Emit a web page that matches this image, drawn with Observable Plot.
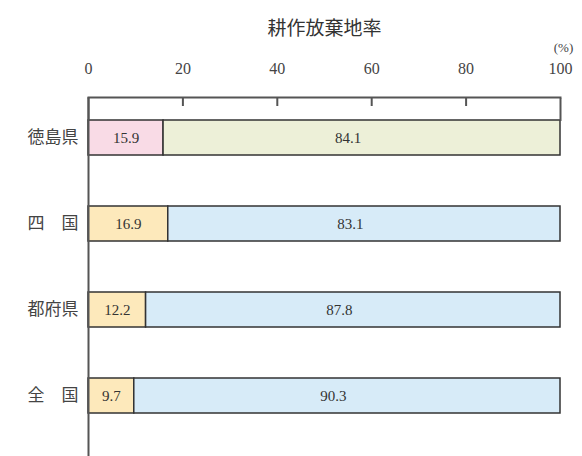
<!DOCTYPE html>
<html><head><meta charset="utf-8">
<script src="https://cdn.jsdelivr.net/npm/d3@7"></script>
<script src="https://cdn.jsdelivr.net/npm/@observablehq/plot@0.6"></script>
<style>body{margin:0;background:#fff}</style>
</head><body><div id="chart"></div>
<script>
const categories = ["徳島県", "四　国", "都府県", "全　国"];
const abandonedShare = [15.9, 16.9, 12.2, 9.7];
const otherShare = [84.1, 83.1, 87.8, 90.3];
const xTicks = [0, 20, 40, 60, 80, 100];
const title = "耕作放棄地率";
const unit = "(%)";

const rows = categories.map((c, i) => ({cat: c, a: abandonedShare[i], b: otherShare[i], highlight: i === 0}));
const fillA = d => d.highlight ? "#f9dbe6" : "#fde9bb";
const fillB = d => d.highlight ? "#edf0d8" : "#d7ebf8";
const serif = "'Liberation Serif', 'DejaVu Serif', serif";
const jp = "'Noto Sans CJK JP', sans-serif";

const chart = Plot.plot({
  width: 582, height: 456,
  marginTop: 97, marginBottom: 0, marginLeft: 88, marginRight: 22,
  style: {background: "#fff", color: "#333"},
  x: {domain: [0, 100], axis: null, label: null},
  y: {domain: categories, paddingInner: 0.594, paddingOuter: 0.377, align: 0.346, axis: null, label: null},
  marks: [
    Plot.barX(rows, {x1: 0, x2: "a", y: "cat", fill: fillA, stroke: "#333", strokeWidth: 1.5}),
    Plot.barX(rows, {x1: "a", x2: d => d.a + d.b, y: "cat", fill: fillB, stroke: "#333", strokeWidth: 1.5}),
    Plot.text(rows, {x: d => d.a / 2, y: "cat", text: d => d.a.toFixed(1), fontSize: 15, fontFamily: serif, fill: "#333"}),
    Plot.text(rows, {x: d => d.a + d.b / 2, y: "cat", dx: -14, text: d => d.b.toFixed(1), fontSize: 15, fontFamily: serif, fill: "#333"}),
    Plot.axisY({anchor: "left", label: null, tickSize: 0, tickPadding: 10, fontSize: 17, fontFamily: jp, fill: "#444"}),
    Plot.ruleX([0], {stroke: "#555", strokeWidth: 2}),
    Plot.frame({anchor: "top", stroke: "#555", strokeWidth: 2}),
    Plot.axisX({anchor: "top", label: null, ticks: [20, 40, 60, 80], tickSize: -8, text: null, stroke: "#555", strokeWidth: 2}),
    Plot.axisX({anchor: "top", label: null, ticks: [0, 100], tickSize: -23, text: null, stroke: "#555", strokeWidth: 2}),
    Plot.axisX({anchor: "top", label: null, ticks: xTicks, tickSize: 0, tickPadding: 24, fontSize: 16, fontFamily: serif, fill: "#444"}),
    Plot.text([unit], {x: 100, frameAnchor: "top", dy: -55, dx: 3, text: d => d, fontSize: 13, fontFamily: serif, fill: "#444"}),
    Plot.text([title], {frameAnchor: "top", dy: -76, text: d => d, fontSize: 19, fontFamily: jp, fill: "#333"})
  ]
});
document.getElementById("chart").appendChild(chart);
</script>
</body></html>
